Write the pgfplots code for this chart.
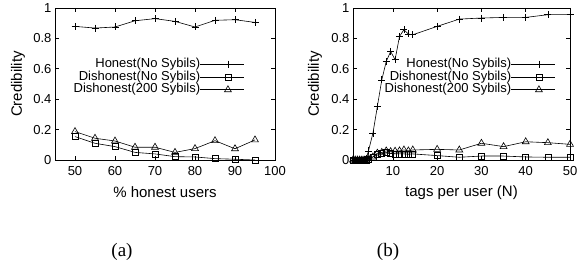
\documentclass[border=0pt]{standalone}
\usepackage{fontspec}
\setmainfont{Liberation Sans}
\newfontfamily\capfont{Liberation Serif}
\usepackage{pgfplots}
\pgfplotsset{compat=1.18}
\pgfplotsset{
 gp/.style={
  scale only axis, height=152pt, anchor=north west,
  ymin=0, ymax=1, ytick={0,0.2,0.4,0.6,0.8,1},
  tick align=inside, tick pos=both, major tick length=4pt,
  axis line style={line width=0.7pt}, every tick/.style={line width=0.6pt, black},
  font=\fontsize{13}{15}\selectfont,
  /pgf/number format/assume math mode=true,
  yticklabel style={/pgf/number format/fixed, /pgf/number format/precision=1},
  xticklabel style={yshift=-3pt},
  ylabel={Credibility},
  label style={font=\fontsize{15}{17}\selectfont},
  legend cell align=right, legend plot pos=right,
  legend style={draw=none, fill=none, anchor=north east, row sep=0pt,
    nodes={inner xsep=0pt, inner ysep=0pt, text height=9.6pt, text depth=3.2pt},
    font=\fontsize{13}{15}\selectfont},
  legend image code/.code={\path (-11pt,0pt) -- (0pt,0pt);
    \draw[mark repeat=2, mark phase=2] plot coordinates {(0pt,0pt) (16.5pt,0pt) (33pt,0pt)};},
  every axis plot/.append style={black, line width=0.6pt, mark options={solid}},
 },
 hon/.style={mark=+, mark size=3.5pt},
 dis/.style={mark=square, mark size=3pt},
 syb/.style={mark=triangle, mark size=4pt},
}
\begin{document}
\begin{tikzpicture}
\useasboundingbox (0pt,0pt) rectangle (580pt,-267pt);
\begin{axis}[gp, at={(55pt,-8pt)}, width=220pt,
  xmin=45, xmax=100, xtick={50,60,70,80,90,100},
  xlabel={\% honest users},
  xlabel style={at={(axis description cs:0.5,-0.211)}, anchor=center},
  ylabel style={at={(axis description cs:-0.168,0.5)}, anchor=center},
  legend style={at={(axis description cs:0.877,0.687)}}]
\addplot[hon] coordinates {(50,0.879) (55,0.868) (60,0.875) (65,0.916) (70,0.930) (75,0.912) (80,0.875) (85,0.919) (90,0.923) (95,0.905)};
\addlegendentry{Honest(No Sybils)}
\addplot[dis] coordinates {(50,0.154) (55,0.110) (60,0.088) (65,0.050) (70,0.040) (75,0.022) (80,0.020) (85,0.009) (90,0.005) (95,0.0)};
\addlegendentry{Dishonest(No Sybils)}
\addplot[syb] coordinates {(50,0.187) (55,0.143) (60,0.125) (65,0.084) (70,0.084) (75,0.050) (80,0.075) (85,0.127) (90,0.074) (95,0.132)};
\addlegendentry{Dishonest(200 Sybils)}
\end{axis}
\begin{axis}[gp, at={(353pt,-8pt)}, width=217pt,
  xmin=1, xmax=50, xtick={10,20,30,40,50},
  xlabel={tags per user (N)},
  xlabel style={at={(axis description cs:0.5,-0.217)}, anchor=center},
  ylabel style={at={(axis description cs:-0.175,0.5)}, anchor=center},
  legend style={at={(axis description cs:0.949,0.687)}}]
\addplot[hon] coordinates {(1,0) (1.5,0) (2,0) (2.5,0) (3,0) (3.5,0.002) (4,0.012) (4.5,0.06) (5.5,0.176) (6.5,0.352) (7.5,0.527) (8.5,0.648) (9.5,0.714) (10.5,0.66) (11.5,0.813) (12.5,0.857) (13.5,0.829) (14.5,0.824) (20,0.879) (25,0.927) (30,0.934) (35,0.938) (40,0.938) (45,0.956) (50,0.956)};
\addlegendentry{Honest(No Sybils)}
\addplot[dis] coordinates {(1,0) (1.5,0) (2,0) (2.5,0) (3,0) (3.5,0) (4,0) (4.5,0.005) (5.5,0.02) (6.5,0.04) (7.5,0.042) (8.5,0.048) (9.5,0.044) (10.5,0.04) (11.5,0.04) (12.5,0.04) (13.5,0.038) (14.5,0.04) (20,0.029) (25,0.018) (30,0.026) (35,0.026) (40,0.02) (45,0.018) (50,0.018)};
\addlegendentry{Dishonest(No Sybils)}
\addplot[syb] coordinates {(1,0) (1.5,0) (2,0) (2.5,0) (3,0) (3.5,0) (4,0.002) (4.5,0.01) (5.5,0.02) (6.5,0.045) (7.5,0.05) (8.5,0.06) (9.5,0.055) (10.5,0.058) (11.5,0.06) (12.5,0.066) (13.5,0.06) (14.5,0.066) (20,0.07) (25,0.066) (30,0.11) (35,0.088) (40,0.12) (45,0.114) (50,0.103)};
\addlegendentry{Dishonest(200 Sybils)}
\end{axis}
\node[font=\capfont\fontsize{19}{22}\selectfont] at (122pt,-252pt) {(a)};
\node[font=\capfont\fontsize{19}{22}\selectfont] at (388pt,-252pt) {(b)};
\end{tikzpicture}
\end{document}
